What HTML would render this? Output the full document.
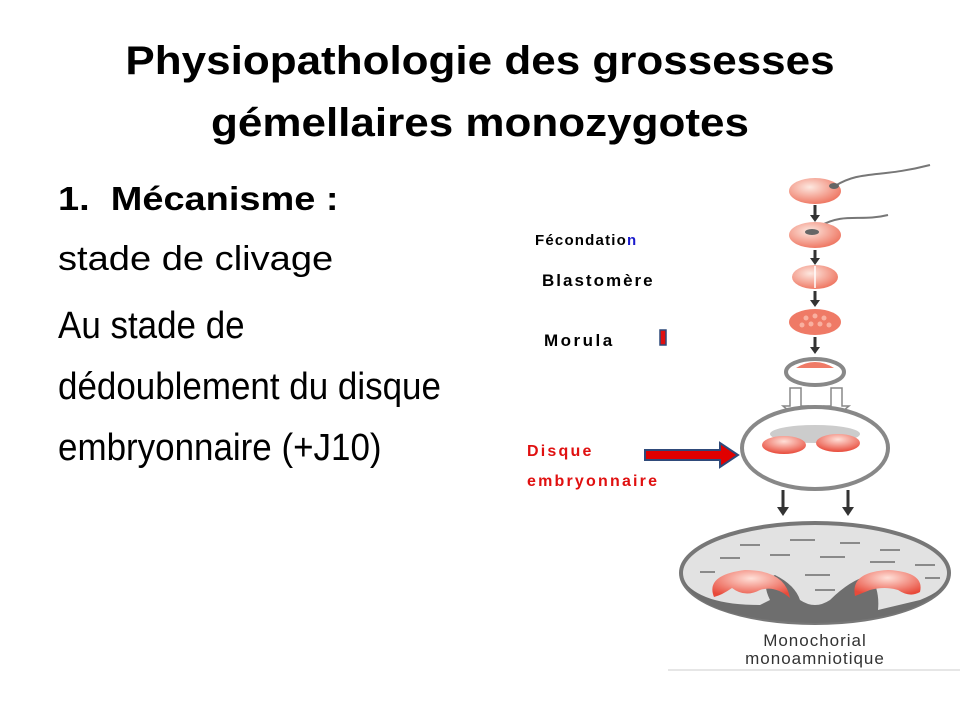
<!DOCTYPE html>
<html><head><meta charset="utf-8"><style>
body{margin:0;width:960px;height:720px;background:#fff;overflow:hidden;position:relative;font-family:"Liberation Sans",sans-serif}
.t{position:absolute;white-space:nowrap}
</style></head><body>
<div class="t" style="left:0;width:960px;text-align:center;top:30px;font-size:40px;font-weight:bold;line-height:62px;transform:scaleX(1.1);transform-origin:480px 0">Physiopathologie des grossesses<br>gémellaires monozygotes</div>
<div class="t" style="left:58px;top:180px;font-size:33px;font-weight:bold;transform:scaleX(1.15);transform-origin:0 0">1.&nbsp; Mécanisme :</div>
<div class="t" style="left:58px;top:240px;font-size:34px;transform:scaleX(1.12);transform-origin:0 0">stade de clivage</div>
<div class="t" style="left:58px;top:296px;font-size:38px;line-height:61px;transform:scaleX(0.92);transform-origin:0 0">Au stade de<br>dédoublement du disque<br>embryonnaire (+J10)</div>
<div class="t" style="left:535px;top:232px;font-size:15px;font-weight:bold;letter-spacing:1.2px">Fécondatio<span style="color:#1a1acc">n</span></div>
<div class="t" style="left:542px;top:271px;font-size:17px;font-weight:bold;letter-spacing:2px">Blastomère</div>
<div class="t" style="left:544px;top:331px;font-size:17px;font-weight:bold;letter-spacing:2.5px">Morula</div>
<div class="t" style="left:527px;top:437px;font-size:16px;font-weight:bold;color:#e01010;line-height:30px;letter-spacing:2.2px">Disque<br>embryonnaire</div>
<svg width="960" height="720" style="position:absolute;left:0;top:0">
<defs>
<radialGradient id="eg" cx="40%" cy="35%" r="65%"><stop offset="0" stop-color="#fde8e0"/><stop offset="1" stop-color="#ef7a66"/></radialGradient>
<radialGradient id="rb" cx="50%" cy="30%" r="70%"><stop offset="0" stop-color="#ffe0d8"/><stop offset="1" stop-color="#e84a3a"/></radialGradient>
</defs>
<rect x="660" y="330" width="6" height="15" fill="#e01010" stroke="#2f4a7a" stroke-width="1.5"/>
<polygon points="645,450 720,450 720,443 738,455 720,467 720,460 645,460" fill="#e00000" stroke="#2f4a7a" stroke-width="2"/>
<path d="M835,186 C860,170 880,178 930,165" stroke="#777" stroke-width="2" fill="none"/>
<path d="M820,226 C845,212 860,222 888,215" stroke="#777" stroke-width="2" fill="none"/>
<ellipse cx="815" cy="191" rx="26" ry="13" fill="url(#eg)"/>
<ellipse cx="834" cy="186" rx="5" ry="3" fill="#666"/>
<ellipse cx="815" cy="235" rx="26" ry="13" fill="url(#eg)"/>
<ellipse cx="812" cy="232" rx="7" ry="3" fill="#666"/>
<ellipse cx="815" cy="277" rx="23" ry="12" fill="url(#eg)"/>
<line x1="815" y1="266" x2="815" y2="288" stroke="#fff" stroke-width="1.5"/>
<ellipse cx="815" cy="322" rx="26" ry="13" fill="#ef7a66"/>
<g fill="#f9b0a0"><circle cx="806" cy="318" r="2.5"/><circle cx="815" cy="316" r="2.5"/><circle cx="824" cy="318" r="2.5"/><circle cx="802" cy="325" r="2.5"/><circle cx="811" cy="324" r="2.5"/><circle cx="820" cy="324" r="2.5"/><circle cx="829" cy="325" r="2.5"/></g>
<ellipse cx="815" cy="372" rx="29" ry="13" fill="#fff" stroke="#888" stroke-width="4"/>
<path d="M796,368 Q815,356 834,368 Z" fill="#ef7a66"/>
<g fill="#333" stroke="#333" stroke-width="3">
<line x1="815" y1="205" x2="815" y2="216"/><line x1="815" y1="250" x2="815" y2="259"/><line x1="815" y1="291" x2="815" y2="301"/><line x1="815" y1="337" x2="815" y2="348"/>
<line x1="783" y1="490" x2="783" y2="508"/><line x1="848" y1="490" x2="848" y2="508"/>
</g>
<g fill="#333"><polygon points="810,215 820,215 815,222"/><polygon points="810,258 820,258 815,265"/><polygon points="810,300 820,300 815,307"/><polygon points="810,347 820,347 815,354"/>
<polygon points="777,507 789,507 783,516"/><polygon points="842,507 854,507 848,516"/></g>
<g fill="#fff" stroke="#888" stroke-width="1.5">
<polygon points="790,388 801,388 801,406 807,406 795,416 783,406 790,406"/>
<polygon points="831,388 842,388 842,406 849,406 837,416 825,406 831,406"/>
</g>
<ellipse cx="815" cy="448" rx="73" ry="41" fill="#fff" stroke="#888" stroke-width="4"/>
<ellipse cx="815" cy="434" rx="45" ry="9" fill="#ccc"/>
<ellipse cx="784" cy="445" rx="22" ry="9" fill="url(#rb)"/>
<ellipse cx="838" cy="443" rx="22" ry="9" fill="url(#rb)"/>
<ellipse cx="815" cy="573" rx="134" ry="50" fill="#e2e2e2" stroke="#777" stroke-width="4"/>
<path d="M683,580 Q700,605 760,605 L770,600 Q760,580 775,575 Q795,585 800,600 Q815,610 830,600 Q850,580 870,575 Q880,590 878,610 L920,600 Q945,590 948,578 Q930,620 815,623 Q700,620 683,580 Z" fill="#6e6e6e"/>
<g stroke="#8a8a8a" stroke-width="2">
<line x1="740" y1="545" x2="760" y2="545"/><line x1="790" y1="540" x2="815" y2="540"/><line x1="840" y1="543" x2="860" y2="543"/><line x1="880" y1="550" x2="900" y2="550"/>
<line x1="720" y1="558" x2="740" y2="558"/><line x1="770" y1="555" x2="790" y2="555"/><line x1="820" y1="557" x2="845" y2="557"/><line x1="870" y1="562" x2="895" y2="562"/><line x1="915" y1="565" x2="935" y2="565"/>
<line x1="805" y1="575" x2="830" y2="575"/><line x1="815" y1="590" x2="835" y2="590"/><line x1="700" y1="572" x2="715" y2="572"/><line x1="925" y1="578" x2="940" y2="578"/>
</g>
<path d="M714,597 Q705,575 745,570 Q785,570 790,598 Q775,585 760,590 Q745,598 732,588 Q722,595 714,597 Z" fill="url(#rb)"/>
<path d="M855,596 Q850,572 888,570 Q925,572 920,592 Q910,598 898,590 Q885,586 870,590 Z" fill="url(#rb)"/>
<text x="815" y="646" text-anchor="middle" font-size="17" fill="#333" font-family="Liberation Sans" letter-spacing="1">Monochorial</text>
<text x="815" y="664" text-anchor="middle" font-size="17" fill="#333" font-family="Liberation Sans" letter-spacing="1">monoamniotique</text>
<line x1="668" y1="670" x2="960" y2="670" stroke="#ccc" stroke-width="1"/>
</svg>
</body></html>
